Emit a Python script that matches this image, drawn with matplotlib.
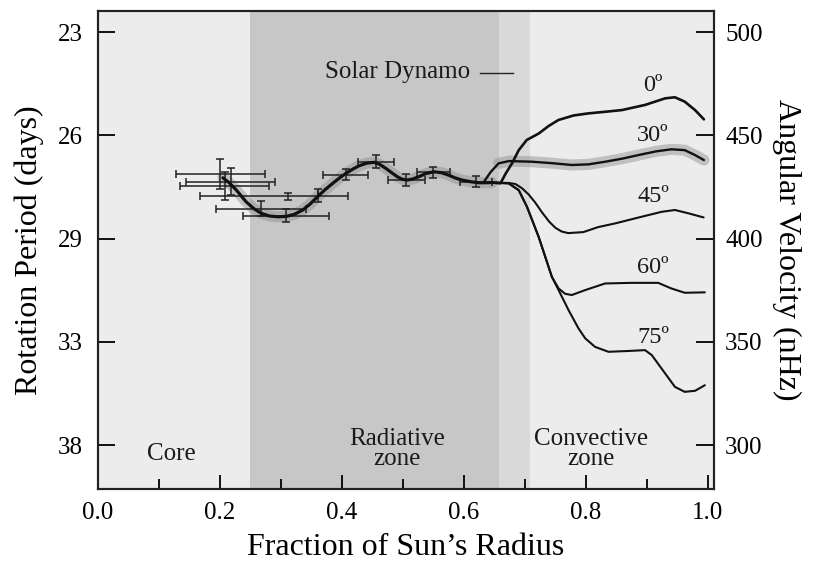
import matplotlib
matplotlib.use("Agg")
import matplotlib.pyplot as plt
import numpy as np

plt.rcParams['font.family'] = ['Liberation Serif', 'DejaVu Serif']

# ---------------- data ----------------
# background zones (fraction of solar radius)
zone_edges = [0.0, 0.25, 0.658, 0.709, 1.01]
zone_colors = ['#ececec', '#c7c7c7', '#d9d9d9', '#ececec']

# mean rotation curve of the interior (nHz)
main_x = [0.205, 0.215, 0.227, 0.243, 0.256, 0.268, 0.281, 0.295, 0.309, 0.322, 0.336,
          0.348, 0.360, 0.372, 0.385, 0.397, 0.407, 0.418, 0.428, 0.441, 0.453, 0.462,
          0.472, 0.482, 0.491, 0.499, 0.507, 0.516, 0.526, 0.538, 0.551, 0.563, 0.575,
          0.586, 0.597, 0.611, 0.625, 0.633, 0.646]
main_y = [429.5, 427.2, 423.6, 417.9, 414.5, 412.3, 411.0, 410.6, 410.8, 411.8, 413.9,
          416.8, 420.3, 423.6, 426.8, 429.6, 431.7, 433.7, 435.3, 436.6, 437.0, 436.0,
          434.1, 431.9, 430.0, 428.8, 428.4, 428.9, 430.0, 431.6, 432.4, 432.0, 430.8,
          429.4, 428.4, 427.6, 427.1, 427.1, 427.2]

# latitude branches in the convective zone (nHz)
lat0_x = [0.646, 0.660, 0.669, 0.679, 0.690, 0.703, 0.723, 0.739, 0.755, 0.780, 0.804,
          0.832, 0.859, 0.897, 0.930, 0.946, 0.962, 0.979, 0.9935]
lat0_y = [427.2, 426.8, 431.8, 436.5, 442.9, 447.8, 451.0, 454.6, 457.5, 459.7, 460.7,
          461.5, 462.3, 464.8, 468.0, 468.5, 466.4, 462.3, 457.8]

lat30_x = [0.633, 0.644, 0.657, 0.674, 0.711, 0.744, 0.777, 0.804, 0.832, 0.860, 0.886,
           0.915, 0.940, 0.962, 0.979, 0.9935]
lat30_y = [427.6, 432.3, 436.5, 437.6, 437.3, 436.6, 435.7, 436.0, 437.3, 438.8, 440.5,
           442.3, 443.3, 442.9, 440.5, 438.1]

lat45_x = [0.646, 0.6735, 0.6845, 0.695, 0.706, 0.717, 0.728, 0.740, 0.750, 0.760, 0.771,
           0.796, 0.820, 0.848, 0.891, 0.924, 0.946, 0.968, 0.993]
lat45_y = [427.2, 427.0, 426.5, 424.5, 421.5, 417.5, 412.8, 408.2, 405.3, 403.5, 402.7,
           403.2, 405.6, 407.4, 410.6, 413.0, 413.9, 412.3, 410.3]

lat60_x = [0.646, 0.6735, 0.690, 0.7034, 0.7226, 0.7443, 0.7553, 0.766, 0.777, 0.799,
           0.8315, 0.8750, 0.9186, 0.940, 0.962, 0.995]
lat60_y = [427.2, 426.8, 423.5, 415.5, 400.9, 381.5, 375.9, 373.3, 372.7, 375.1,
           378.3, 378.6, 378.6, 375.9, 373.8, 374.0]

lat75_x = [0.646, 0.6735, 0.690, 0.7034, 0.7226, 0.7443, 0.7553, 0.7716, 0.788, 0.799,
           0.815, 0.837, 0.870, 0.897, 0.908, 0.930, 0.946, 0.962, 0.979, 0.995]
lat75_y = [427.2, 426.8, 423.5, 415.5, 400.9, 381.5, 375.1, 365.4, 356.5, 351.7,
           347.6, 345.2, 345.6, 346.0, 343.6, 334.7, 328.2, 325.8, 326.3, 329.0]

# helioseismic data points with error bars
pt_x    = [0.2008, 0.2176, 0.2078, 0.3124, 0.2678, 0.3087, 0.3603, 0.4067, 0.4557, 0.5057, 0.5498, 0.6201]
pt_y    = [431.2, 427.6, 425.6, 420.5, 414.5, 411.2, 421.1, 431.0, 437.3, 428.3, 432.1, 427.6]
pt_xlo  = [0.0733, 0.0732, 0.0730, 0.1454, 0.0735, 0.0700, 0.0, 0.0368, 0.0300, 0.0300, 0.0272, 0.0258]
pt_xhi  = [0.0733, 0.0732, 0.0730, 0.0980, 0.0735, 0.0700, 0.0, 0.0368, 0.0300, 0.0300, 0.0272, 0.0258]
pt_yerr = [7.3, 6.5, 6.9, 1.8, 3.6, 3.0, 3.2, 2.6, 3.2, 2.8, 2.7, 2.8]

# axes ticks
x_major = [0.0, 0.2, 0.4, 0.6, 0.8, 1.0]
x_minor = [0.1, 0.3, 0.5, 0.7, 0.9]
nhz_ticks = [500, 450, 400, 350, 300]
period_labels = ['23', '26', '29', '33', '38']

lat_labels = ['0º', '30º', '45º', '60º', '75º']
lat_label_y = [471.5, 447.1, 418.0, 383.3, 349.4]

# ---------------- figure ----------------
fig = plt.figure(figsize=(8.17, 5.68), dpi=100)
ax = fig.add_axes([0.1197, 0.139, 0.7542, 0.8416])
ax.set_xlim(0, 1.01)
ax.set_ylim(278.7, 510.3)

for i in range(len(zone_colors)):
    ax.axvspan(zone_edges[i], zone_edges[i + 1], color=zone_colors[i], lw=0, zorder=0)

shadow = dict(color='#8c8c8c', lw=8, alpha=0.45, solid_capstyle='round', zorder=2)
ax.plot(main_x, main_y, **shadow)
ax.plot(lat30_x[2:], lat30_y[2:], **shadow)

ax.errorbar(pt_x, pt_y, xerr=[pt_xlo, pt_xhi], yerr=pt_yerr, fmt='none',
            ecolor='#222222', elinewidth=1.1, capsize=3.2, capthick=1.1, zorder=3)

line = dict(color='#111111', zorder=4, solid_joinstyle='round', solid_capstyle='round')
ax.plot(main_x, main_y, lw=2.3, **line)
ax.plot(lat0_x, lat0_y, lw=1.9, **line)
ax.plot(lat30_x, lat30_y, lw=1.7, **line)
ax.plot(lat45_x, lat45_y, lw=1.5, **line)
ax.plot(lat60_x, lat60_y, lw=1.5, **line)
ax.plot(lat75_x, lat75_y, lw=1.5, **line)

for lab, yy in zip(lat_labels, lat_label_y):
    ax.text(0.910, yy, lab, ha='center', va='baseline', fontsize=17.5, color='#1a1a1a', zorder=5)

ax.text(0.3729, 477.7, 'Solar Dynamo', ha='left', va='baseline', fontsize=18, color='#1a1a1a')
ax.plot([0.627, 0.681], [480.4, 480.4], color='#222222', lw=1.0)

ax.text(0.1207, 293.0, 'Core', ha='center', va='baseline', fontsize=18, color='#1a1a1a')
ax.text(0.4905, 298.0, 'Radiative\nzone', ha='center', va='center', fontsize=18,
        linespacing=0.85, color='#1a1a1a')
ax.text(0.809, 298.0, 'Convective\nzone', ha='center', va='center', fontsize=18,
        linespacing=0.85, color='#1a1a1a')

# x axis
ax.set_xticks(x_major)
ax.set_xticklabels(['%.1f' % v for v in x_major])
ax.set_xticks(x_minor, minor=True)
ax.tick_params(axis='x', which='major', direction='in', length=10, width=1.3, pad=9,
               labelsize=18, top=False)
ax.tick_params(axis='x', which='minor', direction='in', length=7, width=1.3, top=False)
ax.set_xlabel('Fraction of Sun\u2019s Radius', fontsize=23, labelpad=7)

# left axis (period)
ax.set_yticks(nhz_ticks)
ax.set_yticklabels(period_labels)
ax.tick_params(axis='y', which='major', direction='in', length=12.5, width=1.3, pad=11,
               labelsize=18, right=False)
ax.set_ylabel('Rotation Period (days)', fontsize=23, labelpad=10)

# right axis (angular velocity)
ax2 = ax.twinx()
ax2.set_ylim(ax.get_ylim())
ax2.set_yticks(nhz_ticks)
ax2.set_yticklabels([str(v) for v in nhz_ticks])
ax2.tick_params(axis='y', which='major', direction='in', length=13, width=1.3, pad=8,
                labelsize=18)
ax2.set_ylabel('Angular Velocity (nHz)', fontsize=23, rotation=270, labelpad=28)

for a in (ax, ax2):
    for s in a.spines.values():
        s.set_linewidth(1.5)
        s.set_color('#222222')

fig.savefig('out.png', dpi=100, facecolor='white')
